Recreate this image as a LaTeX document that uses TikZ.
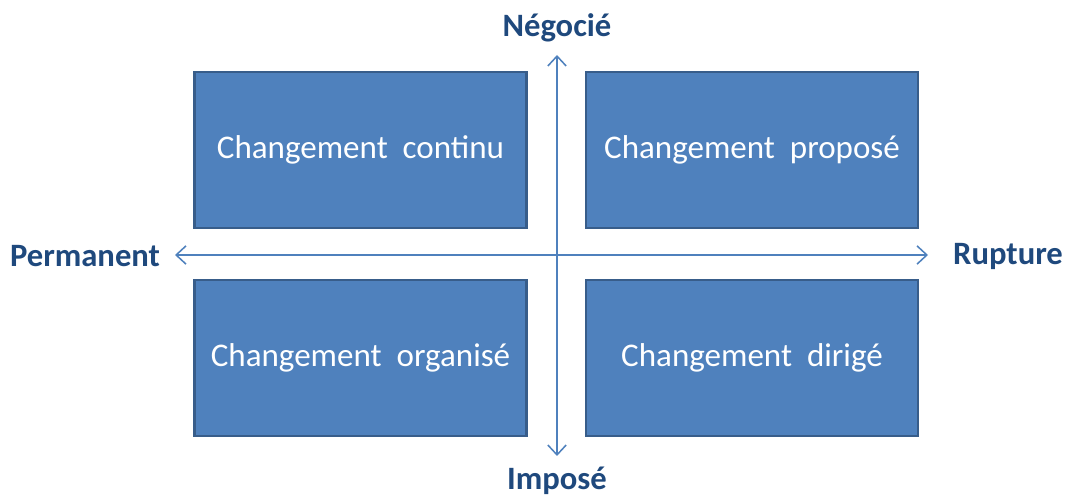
\documentclass[tikz,border=0pt]{standalone}
\usepackage{fontspec}
\setmainfont{Carlito}
\usetikzlibrary{arrows.meta}
\definecolor{boxblue}{RGB}{79,129,189}
\definecolor{boxedge}{RGB}{56,93,138}
\definecolor{labelblue}{RGB}{31,73,125}
\tikzset{
  quadrant/.style={
    rectangle,
    fill=boxblue,
    draw=boxedge,
    line width=1.5pt,
    minimum width=8.3cm,
    minimum height=3.9cm,
    inner sep=0pt,
    text=white,
    font=\fontsize{23.5}{27}\selectfont
  },
  axis-label/.style={text=labelblue, font=\fontsize{23.2}{27}\selectfont\bfseries, inner sep=0pt},
  axis-line/.style={draw=boxblue, line width=1.1pt, {Straight Barb[length=7pt,width=13pt]}-{Straight Barb[length=7pt,width=13pt]}}
}
\begin{document}
\begin{tikzpicture}[x=0.025cm,y=-0.025cm]
  \useasboundingbox (0,0) rectangle (1066,497);

  % Axis ends
  \coordinate (top) at (557,55);
  \coordinate (bottom) at (557,456);
  \coordinate (left) at (175,255);
  \coordinate (right) at (928,255);
  % Axes
  \draw[axis-line] (bottom) -- (top);
  \draw[axis-line] (left) -- (right);
  % Quadrants
  \node[quadrant] (continu) at (360.5,150) {\raisebox{-2pt}{Changement\ \ continu}};
  \node[quadrant] (propose) at (752,150) {\raisebox{-2pt}{Changement\ \ proposé}};
  \node[quadrant] (organise) at (360.5,358) {\raisebox{-2pt}{Changement\ \ organisé}};
  \node[quadrant] (dirige) at (752,358) {\raisebox{-2pt}{Changement\ \ dirigé}};
  % Labels
  \node[axis-label] (negocie) at (557,28) {Négocié};
  \node[axis-label] (impose) at (557,481) {Imposé};
  \node[axis-label] (permanent) at (85,256) {Permanent};
  \node[axis-label] (rupture) at (1008,256) {Rupture};
\end{tikzpicture}
\end{document}
